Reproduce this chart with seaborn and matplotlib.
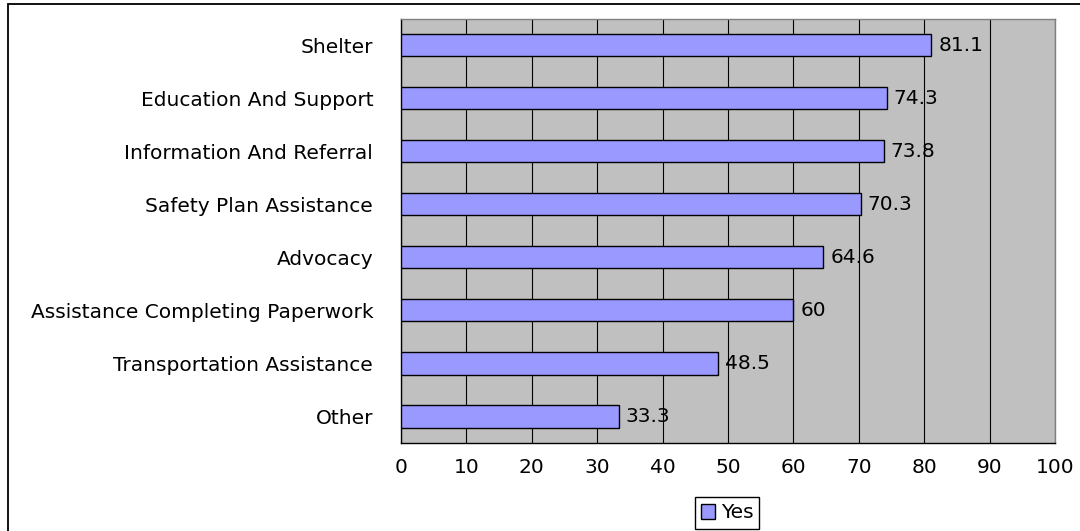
import matplotlib
matplotlib.use("Agg")
import matplotlib.pyplot as plt
import seaborn as sns
import pandas as pd
from matplotlib.patches import Rectangle, Patch
from matplotlib.ticker import FixedLocator

# Services received (percent answering "Yes")
services = [
    "Shelter",
    "Education And Support",
    "Information And Referral",
    "Safety Plan Assistance",
    "Advocacy",
    "Assistance Completing Paperwork",
    "Transportation Assistance",
    "Other",
]
yes_pct = [81.1, 74.3, 73.8, 70.3, 64.6, 60, 48.5, 33.3]
x_ticks = list(range(0, 101, 10))
series_name = "Yes"

BAR_COLOR = "#9999FF"
PLOT_BG = "#C0C0C0"
FONT_SIZE = 14.5

sns.set_style("white")
plt.rcParams["font.family"] = ["DejaVu Sans"]
plt.rcParams["font.size"] = FONT_SIZE
plt.rcParams["text.color"] = "black"
plt.rcParams["xtick.labelcolor"] = "black"
plt.rcParams["ytick.labelcolor"] = "black"

df = pd.DataFrame({"service": services, "pct": yes_pct})

W, H = 1080, 531
fig = plt.figure(figsize=(W / 100, H / 100), dpi=100)
left, right, top, bottom = 401, 1055, 18.5, 443
ax = fig.add_axes([left / W, 1 - bottom / H, (right - left) / W, (bottom - top) / H])

sns.barplot(
    data=df, x="pct", y="service", order=services,
    color=BAR_COLOR, saturation=1, width=0.42,
    edgecolor="black", linewidth=1.0, ax=ax, zorder=3,
)

ax.set_facecolor(PLOT_BG)
ax.set_axisbelow(True)
ax.xaxis.grid(True, color="black", linewidth=0.8)
ax.yaxis.grid(False)

ax.set_xlim(0, 100)
ax.set_ylim(len(services) - 0.5, -0.5)
ax.set_xticks(x_ticks)
ax.set_xlabel("")
ax.set_ylabel("")

for side in ("left", "bottom"):
    ax.spines[side].set_color("black")
    ax.spines[side].set_linewidth(1.0)
for side in ("top", "right"):
    ax.spines[side].set_color("#808080")
    ax.spines[side].set_linewidth(1.0)

ax.tick_params(axis="x", direction="out", length=4, width=0.8,
               color="black", pad=7, labelsize=FONT_SIZE, labelcolor="black")
ax.tick_params(axis="y", which="major", length=0, pad=20,
               labelsize=FONT_SIZE, labelcolor="black")
ax.yaxis.set_minor_locator(FixedLocator([i - 0.5 for i in range(len(services) + 1)]))
ax.tick_params(axis="y", which="minor", direction="out", length=4.3,
               width=0.8, color="black")

ax.bar_label(ax.containers[0], fmt="%g", padding=5, fontsize=FONT_SIZE, color="black")

handles = [Patch(facecolor=BAR_COLOR, edgecolor="black", linewidth=1.0, label=series_name)]
fig.legend(
    handles=handles, loc="center", bbox_to_anchor=(727 / W, 1 - 513 / H),
    frameon=True, fancybox=False, edgecolor="black", framealpha=1,
    handlelength=0.7, handleheight=0.7, borderpad=0.3, handletextpad=0.3,
    fontsize=FONT_SIZE,
)

# outer chart frame
fig.patches.append(Rectangle(
    (7.5 / W, -0.05), 1.1, 1 - 4.5 / H + 0.05, transform=fig.transFigure,
    fill=False, edgecolor="black", linewidth=1.3,
))

fig.savefig("out.png", dpi=100)
